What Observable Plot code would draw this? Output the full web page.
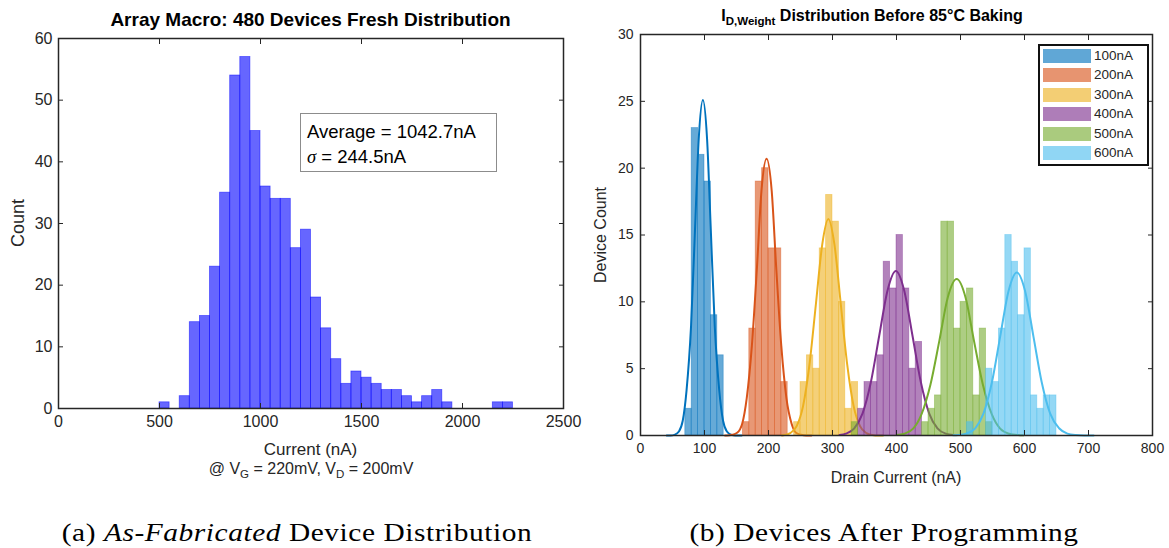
<!DOCTYPE html>
<html><head><meta charset="utf-8">
<script src="https://cdn.jsdelivr.net/npm/d3@7"></script>
<script src="https://cdn.jsdelivr.net/npm/@observablehq/plot@0.6"></script>
<style>
body{margin:0;background:#fff;}
#root{position:relative;width:1169px;height:548px;overflow:hidden;background:#fff;font-family:"Liberation Sans",Arial,Helvetica,sans-serif;color:#262626;}
.t{position:absolute;white-space:nowrap;transform:translate(-50%,-50%);line-height:1;}
.cap{font-family:"Liberation Serif","Times New Roman",serif;color:#000;letter-spacing:0.5px;}
sub{font-size:0.72em;vertical-align:-0.35em;line-height:0;}
</style></head><body><div id="root"></div>
<script>
// ---------- Left panel: as-fabricated distribution ----------
const freshBinStart = [500,550,600,650,700,750,800,850,900,950,1000,1050,1100,1150,1200,1250,1300,1350,1400,1450,1500,1550,1600,1650,1700,1750,1800,1850,1900,1950,2000,2050,2100,2150,2200];
const freshCounts   = [1,0,2,14,15,23,35,54,57,45,36,34,34,26,29,18,13,8,4,6,5,4,3,3,2,1,2,3,1,0,0,0,0,1,1];
const freshBinWidth = 50;
const freshXTicks = [0,500,1000,1500,2000,2500];
const freshYTicks = [0,10,20,30,40,50,60];

// ---------- Right panel: after programming ----------
const progNames = ["100nA","200nA","300nA","400nA","500nA","600nA"];
const progBinWidth = 10;
const bins100 = [70,80,90,100,110,120];
const counts100 = [2,23,21,19,9,6];
const bins200 = [160,170,180,190,200,210,220];
const counts200 = [1,8,19,20,14,14,4];
const bins300 = [240,250,260,270,280,290,300,310,320,330];
const counts300 = [1,4,6,5,14,18,16,10,2,4];
const bins400 = [340,350,360,370,380,390,400,410,420,430];
const counts400 = [2,4,4,6,13,11,15,11,5,7];
const bins500 = [330,440,450,460,470,480,490,500,510,520,530,540];
const counts500 = [1,1,2,3,16,16,8,10,11,3,8,1];
const bins600 = [510,540,550,560,570,580,590,600,610,620,630,640];
const counts600 = [1,5,4,8,15,13,9,14,3,2,3,3];

// fitted curves, points
const fit100X = [41,47,53,60,66,72,79,85,91,97.5,104,110,116,123,129,135,142,148,154,158];
const fit100Y = [0,0,0.05,0.3,1.1,3.4,8.2,15.2,22.2,25.1,22.2,15.2,8.2,3.4,1.1,0.3,0.05,0,0,0];
const fit200X = [132,135,143,151,159,166,174,182,189,197,205,212,220,228,236,243,251,259,267];
const fit200Y = [0,0,0.05,0.2,0.9,2.8,6.7,12.6,18.3,20.7,18.3,12.6,6.7,2.8,0.9,0.2,0.05,0,0];
const fit300X = [221,225,234,244,254,264,274,284,293.5,303,313,323,333,343,353,362,372,379];
const fit300Y = [0,0.04,0.18,0.7,2.2,5.3,9.8,14.3,16.2,14.3,9.8,5.3,2.2,0.7,0.18,0.04,0,0];
const fit400X = [311,321,334,347,360,373,386,399,412,425,438,451,464,477,489];
const fit400Y = [0.04,0.14,0.54,1.66,4.0,7.46,10.85,12.3,10.85,7.46,4.0,1.66,0.54,0.14,0.04];
const fit500X = [400,412,426,439,453,467,480,494,508,521,535,549,562,576,590,598];
const fit500Y = [0.03,0.13,0.51,1.58,3.8,7.1,10.3,11.7,10.3,7.1,3.8,1.58,0.51,0.13,0.03,0.01];
const fit600X = [489,496,509,523,536,549,562,575,588,601,614,627,640,654,667,680,693,708];
const fit600Y = [0.01,0.03,0.14,0.54,1.65,3.96,7.4,10.8,12.2,10.8,7.4,3.96,1.65,0.54,0.14,0.03,0,0];

const progXTicks = [0,100,200,300,400,500,600,700,800];
const progYTicks = [0,5,10,15,20,25,30];

const progColors = ["#0072BD","#D95319","#EDB120","#7E2F8E","#77AC30","#4DBEEE"];
const axisColor = "#262626";
const fontStack = '"Liberation Sans", Arial, Helvetica, sans-serif';
const plainNum = d3.format("d");

const root = document.getElementById("root");
function addText(html, cx, cy, css, cls) {
  const d = document.createElement("div");
  d.className = "t" + (cls ? " " + cls : "");
  d.innerHTML = html;
  d.style.left = cx + "px";
  d.style.top = cy + "px";
  d.style.cssText += css || "";
  root.appendChild(d);
  return d;
}
function place(svg, left, top) {
  svg.style.position = "absolute";
  svg.style.left = left + "px";
  svg.style.top = top + "px";
  root.appendChild(svg);
}

function boxAxes(xTicks, yTicks, fs, padX, padY) {
  return [
    Plot.frame({stroke: axisColor, strokeWidth: 1.5}),
    Plot.axisX(xTicks, {anchor: "bottom", tickSize: -5, tickPadding: padX, tickFormat: plainNum, label: null, fontSize: fs, stroke: axisColor}),
    Plot.axisX(xTicks, {anchor: "top", tickSize: -5, tickFormat: () => "", label: null, stroke: axisColor}),
    Plot.axisY(yTicks, {anchor: "left", tickSize: -5, tickPadding: padY, tickFormat: plainNum, label: null, fontSize: fs, stroke: axisColor}),
    Plot.axisY(yTicks, {anchor: "right", tickSize: -5, tickFormat: () => "", label: null, stroke: axisColor})
  ];
}

// Left chart
const fresh = freshBinStart.map((s, i) => ({x1: s, x2: s + freshBinWidth, count: freshCounts[i]}));
const leftPlot = Plot.plot({
  width: 590, height: 490,
  marginLeft: 58, marginRight: 27, marginTop: 38, marginBottom: 82,
  style: {fontFamily: fontStack, fontSize: "16px", color: axisColor, background: "transparent", overflow: "visible"},
  x: {domain: [0, 2500]},
  y: {domain: [0, 60]},
  marks: [
    Plot.rect(fresh.filter(d => d.count > 0), {x1: "x1", x2: "x2", y1: 0, y2: "count", fill: "#0000ff", fillOpacity: 0.6, stroke: "#0000ff", strokeOpacity: 0.55, strokeWidth: 0.8}),
    ...boxAxes(freshXTicks, freshYTicks, 16, 12, 11)
  ]
});
place(leftPlot, 0, 0);

// Right chart
const progSeries = [
  {bins: bins100, counts: counts100, fx: fit100X, fy: fit100Y},
  {bins: bins200, counts: counts200, fx: fit200X, fy: fit200Y},
  {bins: bins300, counts: counts300, fx: fit300X, fy: fit300Y},
  {bins: bins400, counts: counts400, fx: fit400X, fy: fit400Y},
  {bins: bins500, counts: counts500, fx: fit500X, fy: fit500Y},
  {bins: bins600, counts: counts600, fx: fit600X, fy: fit600Y}
];
const progMarks = [];
progSeries.forEach((s, i) => {
  const rows = s.bins.map((b, j) => ({x1: b, x2: b + progBinWidth, count: s.counts[j]}));
  const fit = s.fx.map((x, j) => ({x, y: s.fy[j]}));
  progMarks.push(Plot.rect(rows, {x1: "x1", x2: "x2", y1: 0, y2: "count", fill: progColors[i], fillOpacity: 0.6, stroke: progColors[i], strokeOpacity: 0.45, strokeWidth: 0.8}));
  progMarks.push(Plot.line(fit, {x: "x", y: "y", stroke: progColors[i], strokeWidth: 2, curve: "monotone-x"}));
});
const rightPlot = Plot.plot({
  width: 584, height: 490,
  marginLeft: 55, marginRight: 17, marginTop: 34, marginBottom: 55,
  style: {fontFamily: fontStack, fontSize: "14px", color: axisColor, background: "transparent", overflow: "visible"},
  x: {domain: [0, 800]},
  y: {domain: [0, 30]},
  marks: [...progMarks, ...boxAxes(progXTicks, progYTicks, 14, 13, 12)]
});
place(rightPlot, 585, 0);

// Titles and axis labels
addText("Array Macro: 480 Devices Fresh Distribution", 310.5, 19, "font-weight:bold;font-size:19px;color:#000;");
addText("Count", 18, 223, "font-size:18px;transform:translate(-50%,-50%) rotate(-90deg);");
addText("Current (nA)", 310.5, 449, "font-size:17px;");
addText("@ V<sub>G</sub> = 220mV, V<sub>D</sub> = 200mV", 311, 469, "font-size:16px;");

addText("I<sub>D,Weight</sub> Distribution Before 85°C Baking", 872, 16, "font-weight:bold;font-size:16px;color:#000;");
addText("Device Count", 601, 235, "font-size:16px;transform:translate(-50%,-50%) rotate(-90deg);");
addText("Drain Current (nA)", 896, 478, "font-size:16px;");

// Annotation box (left)
const box = document.createElement("div");
box.style.cssText = "position:absolute;left:300px;top:113px;width:197px;height:59px;border:1px solid #8c8c8c;background:#fff;box-sizing:border-box;";
root.appendChild(box);
const b1 = addText("Average = 1042.7nA", 0, 131.5, "font-size:18.5px;color:#000;transform:translate(0,-50%);");
b1.style.left = "307px";
const b2 = addText("<i style=\"font-family:'Liberation Serif',serif\">σ</i> = 244.5nA", 0, 156.5, "font-size:18.5px;color:#000;transform:translate(0,-50%);");
b2.style.left = "307px";

// Legend (right)
const leg = document.createElement("div");
leg.style.cssText = "position:absolute;left:1038px;top:44px;width:111px;height:122px;border:2px solid #111;background:#fff;box-sizing:border-box;";
root.appendChild(leg);
progNames.forEach((name, i) => {
  const sw = document.createElement("div");
  sw.style.cssText = `position:absolute;left:1043px;top:${49 + i * 19.4}px;width:48px;height:14px;box-sizing:border-box;border:1px solid ${progColors[i]};background:${progColors[i]};opacity:0.62;`;
  root.appendChild(sw);
  const tx = addText(name, 0, 56 + i * 19.4, "font-size:13.5px;transform:translate(0,-50%);");
  tx.style.left = "1094px";
});

// Captions
addText("(a) <i>As-Fabricated</i> Device Distribution", 297, 533, "font-size:26px;transform:translate(-50%,-50%) scaleX(1.13);", "cap");
addText("(b) Devices After Programming", 884, 533, "font-size:26px;transform:translate(-50%,-50%) scaleX(1.13);", "cap");
</script>
</body></html>
